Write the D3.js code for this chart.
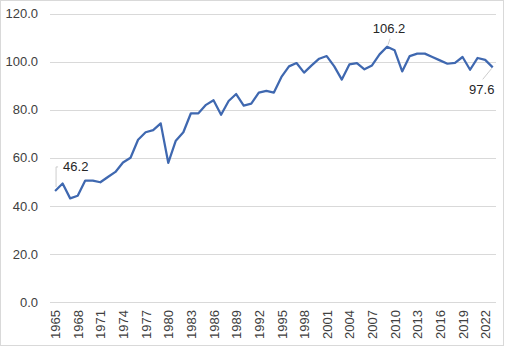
<!DOCTYPE html>
<html>
<head>
<meta charset="utf-8">
<script src="https://cdn.jsdelivr.net/npm/d3@7"></script>
<style>
  html, body { margin: 0; padding: 0; background: #fff; }
  svg { display: block; font-family: "Liberation Sans", "Open Sans", sans-serif; }
</style>
</head>
<body>
<svg id="chart" width="505" height="347"></svg>
<script>
// Annual index, 1965–2023
const years = d3.range(1965, 2024);
const values = [
  46.2, 49.3, 43.1, 44.2, 50.5, 50.5, 49.8, 52.0, 54.1, 58.0,
  60.0, 67.5, 70.6, 71.5, 74.3, 57.9, 67.1, 70.6, 78.5, 78.5,
  82.0, 83.9, 77.9, 83.6, 86.5, 81.7, 82.5, 87.1, 87.8, 87.1,
  93.6, 98.0, 99.4, 95.4, 98.4, 101.2, 102.3, 98.0, 92.5, 98.8,
  99.4, 96.8, 98.4, 103.0, 106.2, 104.7, 95.9, 102.3, 103.3, 103.3,
  101.9, 100.5, 99.1, 99.5, 101.9, 96.6, 101.5, 100.7, 97.6
];
const yTicks = [0, 20, 40, 60, 80, 100, 120];
const xTickYears = years.filter((y, i) => i % 3 === 0);
// Points that carry a value label
const labelledYears = [1965, 2009, 2023];

const svg = d3.select("#chart");

// Outer frame
svg.append("rect")
  .attr("x", 0.5).attr("y", 0.5)
  .attr("width", 503).attr("height", 345)
  .attr("fill", "#fff")
  .attr("stroke", "#d9d9d9");

const x = d3.scalePoint()
  .domain(years)
  .range([51.3, 496.5])
  .padding(0.5);

const y = d3.scaleLinear()
  .domain([0, 120])
  .range([302, 13.5]);

// Horizontal gridlines
svg.append("g")
  .selectAll("line")
  .data(yTicks)
  .join("line")
  .attr("x1", 50).attr("x2", 496)
  .attr("y1", d => Math.round(y(d)) + 0.5)
  .attr("y2", d => Math.round(y(d)) + 0.5)
  .attr("stroke", "#d9d9d9")
  .attr("stroke-width", 1);

// Y axis labels
const yAxis = d3.axisLeft(y)
  .tickValues(yTicks)
  .tickFormat(d3.format(".1f"))
  .tickSize(0)
  .tickPadding(0);
svg.append("g")
  .attr("transform", "translate(38,0)")
  .call(yAxis)
  .call(g => g.select(".domain").remove())
  .call(g => g.selectAll("text")
    .attr("fill", "#404040")
    .style("font-size", "13px")
    .style("font-family", "'Liberation Sans', sans-serif"));

// X axis labels, rotated
const xAxis = d3.axisBottom(x)
  .tickValues(xTickYears)
  .tickSize(0)
  .tickPadding(0);
svg.append("g")
  .attr("transform", "translate(0,310)")
  .call(xAxis)
  .call(g => g.select(".domain").remove())
  .call(g => g.selectAll("text")
    .attr("transform", "rotate(-90)")
    .attr("text-anchor", "end")
    .attr("x", 0)
    .attr("y", 0)
    .attr("dy", "0.35em")
    .attr("fill", "#404040")
    .style("font-size", "13px")
    .style("font-family", "'Liberation Sans', sans-serif"));

// Data line
const line = d3.line()
  .x((d, i) => x(years[i]))
  .y(d => y(d));
svg.append("path")
  .datum(values)
  .attr("d", line)
  .attr("fill", "none")
  .attr("stroke", "#3f68b0")
  .attr("stroke-width", 2.25)
  .attr("stroke-linejoin", "round");

// Value labels with leader lines
const labelSpecs = {
  1965: { dx: 8, dy: -20, anchor: "start", lead: (px, py) => [[px + 1, py - 4], [px + 1, py - 24], [px + 3, py - 24]] },
  2009: { dx: 2, dy: -14, anchor: "middle", lead: (px, py) => [[px + 1, py - 2], [px + 3, py - 8]] },
  2023: { dx: -11, dy: 27, anchor: "middle", lead: (px, py) => [[px - 1, py + 1], [px - 10, py + 12]] }
};
const labelGroup = svg.append("g");
labelledYears.forEach(yr => {
  const v = values[years.indexOf(yr)];
  const px = x(yr), py = y(v);
  const s = labelSpecs[yr];
  labelGroup.append("path")
    .attr("d", d3.line()(s.lead(px, py)))
    .attr("fill", "none")
    .attr("stroke", "#bfbfbf")
    .attr("stroke-width", 0.8);
  labelGroup.append("text")
    .attr("x", px + s.dx)
    .attr("y", py + s.dy)
    .attr("text-anchor", s.anchor)
    .attr("fill", "#262626")
    .style("font-size", "13px")
    .text(d3.format(".1f")(v));
});
</script>
</body>
</html>
